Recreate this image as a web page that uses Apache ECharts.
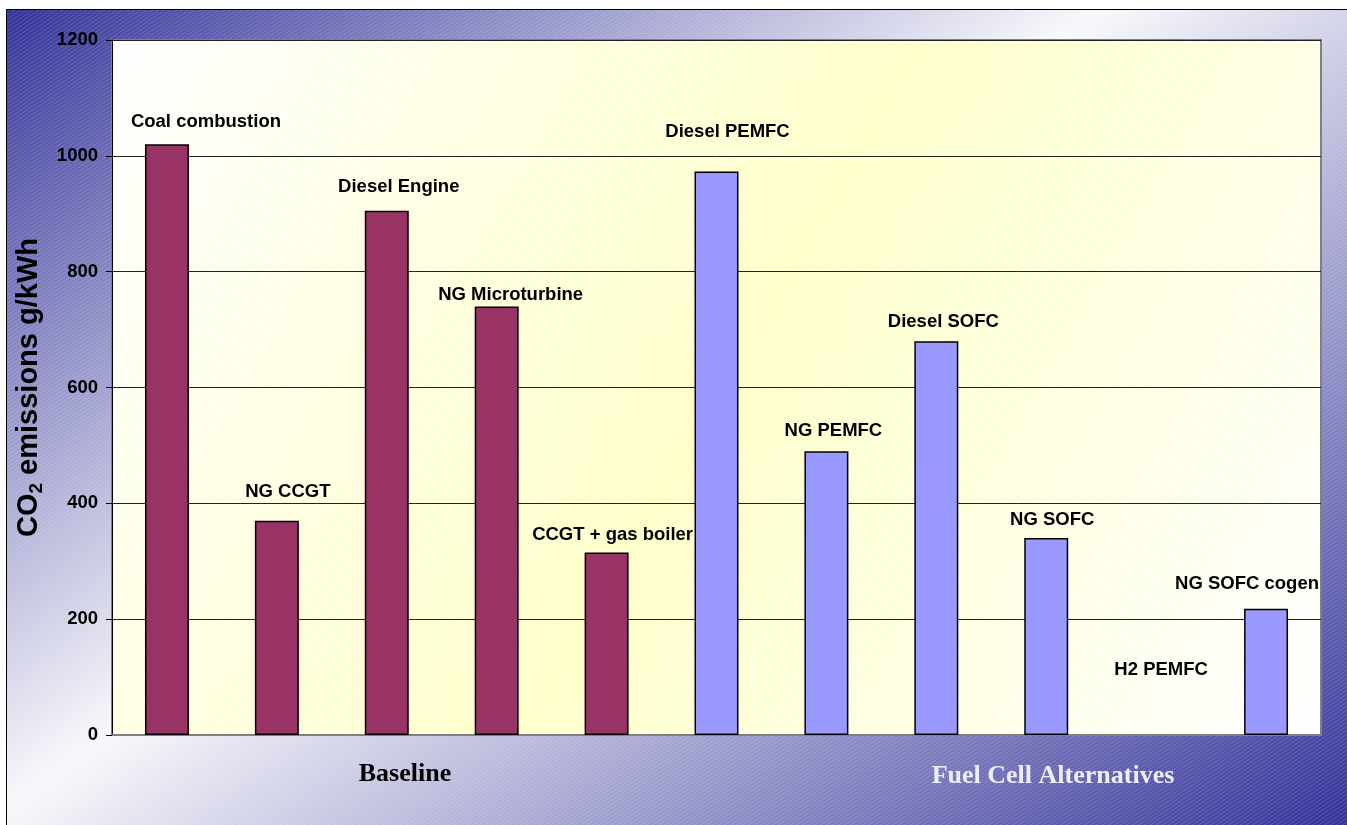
<!DOCTYPE html>
<html>
<head>
<meta charset="utf-8">
<script src="https://cdn.jsdelivr.net/npm/echarts@6/dist/echarts.min.js"></script>
<style>
  html, body { margin: 0; padding: 0; background: #fff; }
  #chart { width: 1347px; height: 825px; }
</style>
</head>
<body>
<div id="chart"></div>
<script>
// data
const categories = ['Coal combustion', 'NG CCGT', 'Diesel Engine', 'NG Microturbine', 'CCGT + gas boiler',
    'Diesel PEMFC', 'NG PEMFC', 'Diesel SOFC', 'NG SOFC', 'H2 PEMFC', 'NG SOFC cogen']
const values = [1020, 370, 905, 740, 315, 973, 490, 680, 340, 0, 218]
const groups = ['Baseline', 'Baseline', 'Baseline', 'Baseline', 'Baseline',
    'Fuel Cell Alternatives', 'Fuel Cell Alternatives', 'Fuel Cell Alternatives',
    'Fuel Cell Alternatives', 'Fuel Cell Alternatives', 'Fuel Cell Alternatives']
const groupNames = ['Baseline', 'Fuel Cell Alternatives']
const yTicks = [0, 200, 400, 600, 800, 1000, 1200]

// hand placed labels in the original, nudged from the bar top
const labelOffsets = [[39, -8], [11, -14], [12, -9], [14, 3], [6, -3], [11, -25],
    [7, -6], [7, -5], [6, -4], [5, -51], [-19, -10]]

const groupColors = { 'Baseline': '#993366', 'Fuel Cell Alternatives': '#9999FF' }

const stripes = (w, h, color, width) => {
    const c = document.createElement('canvas')
    c.width = w
    c.height = h
    const ctx = c.getContext('2d')
    ctx.strokeStyle = color
    ctx.lineWidth = width
    ctx.beginPath()
    for (let k = -1; k <= 1; k++) {
        ctx.moveTo(k * w, h)
        ctx.lineTo(k * w + w, 0)
    }
    ctx.stroke()
    return c
}

const chart = echarts.init(document.getElementById('chart'))

const option = {
    animation: false,
    graphic: [
        {
            type: 'rect', z: -10, silent: true,
            shape: { x: 6.5, y: 9.5, width: 1400, height: 900 },
            style: {
                fill: new echarts.graphic.LinearGradient(7, 10, 862, 1179, [
                    { offset: 0, color: '#333399' },
                    { offset: 0.445, color: '#F8F8FB' },
                    { offset: 1, color: '#333399' }
                ], true),
                stroke: '#000', lineWidth: 1
            }
        },
        {
            type: 'rect', z: -9, silent: true,
            shape: { x: 7, y: 10, width: 1400, height: 900 },
            style: { fill: { image: stripes(6, 4, 'rgba(255,255,255,0.22)', 0.8), repeat: 'repeat' } }
        },
        {
            type: 'rect', z: -8, silent: true,
            shape: { x: 112, y: 40, width: 1209, height: 695 },
            style: {
                fill: new echarts.graphic.LinearGradient(0, 0, 1, 1, [
                    { offset: 0, color: '#FFFFFF' },
                    { offset: 0.5, color: '#FFFFCC' },
                    { offset: 1, color: '#FFFFFF' }
                ])
            }
        },
        {
            type: 'rect', z: -7, silent: true,
            shape: { x: 112, y: 40, width: 1209, height: 695 },
            style: { fill: { image: stripes(18, 12, 'rgba(200,200,235,0.22)', 0.7), repeat: 'repeat' } }
        },
        {
            type: 'text', z: 10, silent: true,
            x: 405, y: 774,
            style: {
                text: groupNames[0], fill: '#000',
                font: 'bold 26px "Liberation Serif"',
                align: 'center', verticalAlign: 'middle'
            }
        },
        {
            type: 'text', z: 10, silent: true,
            x: 1053, y: 776,
            style: {
                text: groupNames[1], fill: '#EEEEF8',
                font: 'bold 26px "Liberation Serif"',
                align: 'center', verticalAlign: 'middle'
            }
        }
    ],
    grid: {
        left: 112,
        right: 26,
        top: 40,
        bottom: 90,
        show: true,
        backgroundColor: 'transparent',
        borderColor: '#808080',
        borderWidth: 2
    },
    xAxis: {
        type: 'category',
        data: categories,
        axisLine: { lineStyle: { color: '#808080', width: 2 } },
        axisTick: { show: false },
        axisLabel: { show: false }
    },
    yAxis: {
        type: 'value',
        min: yTicks[0],
        max: yTicks[yTicks.length - 1],
        interval: 200,
        name: 'CO{sub|2} emissions g/kWh',
        nameLocation: 'middle',
        nameGap: 66,
        nameTextStyle: {
            fontFamily: 'Liberation Sans',
            fontWeight: 'bold',
            fontSize: 29,
            color: '#000',
            rich: {
                sub: {
                    fontFamily: 'Liberation Sans',
                    fontWeight: 'bold',
                    fontSize: 19,
                    color: '#000',
                    verticalAlign: 'bottom',
                    padding: [14, 0, 0, 0]
                }
            }
        },
        axisLine: { show: true, lineStyle: { color: '#000', width: 1 } },
        axisTick: { show: true, length: 6, lineStyle: { color: '#000' } },
        axisLabel: {
            margin: 14,
            fontFamily: 'Liberation Sans',
            fontWeight: 'bold',
            fontSize: 18.5,
            color: '#000',
            formatter: (v) => String(v)
        },
        splitLine: { lineStyle: { color: '#222', width: 1 } }
    },
    series: [
        {
            type: 'bar',
            barWidth: '40%',
            data: values.map((v, i) => ({
                value: v,
                itemStyle: {
                    color: groupColors[groups[i]],
                    borderWidth: v === 0 ? 0 : 1.5
                },
                label: { offset: labelOffsets[i] }
            })),
            itemStyle: { borderColor: '#000', borderWidth: 1.5 },
            label: {
                show: true,
                position: 'top',
                distance: 5,
                formatter: '{b}',
                fontFamily: 'Liberation Sans',
                fontWeight: 'bold',
                fontSize: 18.5,
                color: '#000'
            }
        }
    ]
}

chart.setOption(option)
</script>
</body>
</html>
